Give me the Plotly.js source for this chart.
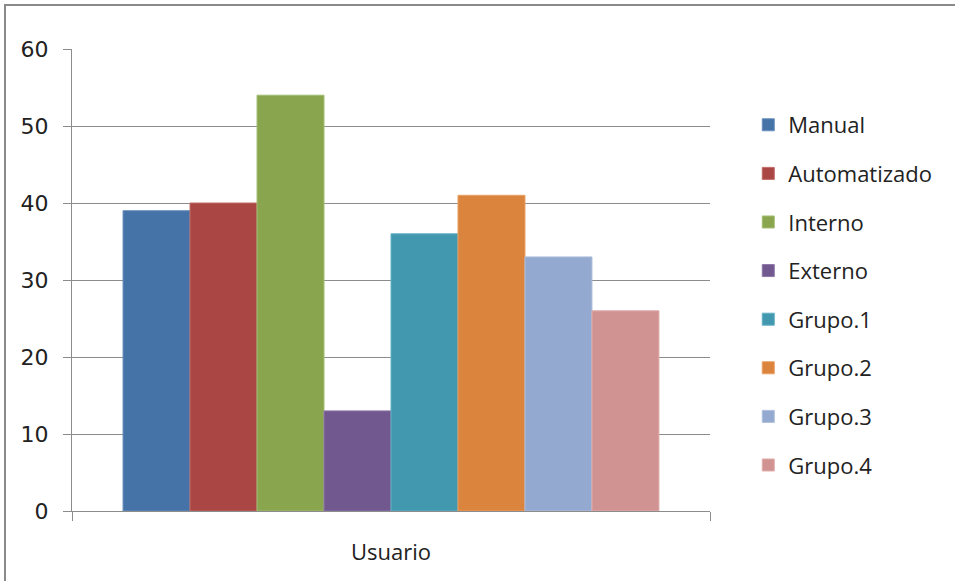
<!DOCTYPE html>
<html>
<head>
<meta charset="utf-8">
<script src="https://cdn.plot.ly/plotly-3.0.1.min.js"></script>
<style>
  html, body { margin: 0; padding: 0; background: #ffffff; }
  #chart { width: 955px; height: 581px; }
</style>
</head>
<body>
<div id="chart"></div>
<script>
// Single category, one bar per series
const categories = ["Usuario"];
const seriesNames = ["Manual", "Automatizado", "Interno", "Externo", "Grupo.1", "Grupo.2", "Grupo.3", "Grupo.4"];
const seriesValues = [39, 40, 54, 13, 36, 41, 33, 26];
const seriesColors = ["#4572A7", "#AA4643", "#89A54E", "#71588F", "#4198AF", "#DB843D", "#93A9CF", "#D19392"];
const seriesEdges = ["#6a8fbd", "#c06a67", "#a3bd72", "#8d77a8", "#65b0c4", "#e89f63", "#aebfdc", "#dfacab"];
const yTicks = [0, 10, 20, 30, 40, 50, 60];

const traces = seriesNames.map((name, i) => ({
  type: "bar",
  name: name,
  x: categories,
  y: [seriesValues[i]],
  legendgroup: name,
  marker: { color: seriesColors[i], line: { color: seriesEdges[i], width: 1 } },
  hoverinfo: "skip"
}));

const layout = {
  width: 955,
  height: 581,
  paper_bgcolor: "#ffffff",
  plot_bgcolor: "#ffffff",
  margin: { l: 72, r: 245, t: 49, b: 70 },
  barmode: "group",
  bargap: 0.16,
  bargroupgap: 0,
  showlegend: true,
  legend: {
    x: 1.06, xanchor: "left",
    y: 0.881, yanchor: "top",
    traceorder: "grouped",
    tracegroupgap: 17,
    font: { family: "Open Sans, sans-serif", size: 22, color: "#222222" },
    bgcolor: "rgba(0,0,0,0)",
    itemclick: false
  },
  xaxis: {
    type: "category",
    tickson: "boundaries",
    ticks: "outside",
    ticklen: 9,
    tickcolor: "#8c8c8c",
    showline: true,
    linecolor: "#8c8c8c",
    linewidth: 1,
    showgrid: false,
    tickfont: { family: "Open Sans, sans-serif", size: 22, color: "#222222" },
    ticklabelstandoff: 22,
    fixedrange: true
  },
  yaxis: {
    range: [0, 60],
    tickvals: yTicks,
    ticktext: yTicks.map(String),
    ticks: "outside",
    ticklen: 8,
    tickcolor: "#8c8c8c",
    showline: true,
    linecolor: "#8c8c8c",
    linewidth: 1,
    showgrid: true,
    gridcolor: "#8c8c8c",
    gridwidth: 1,
    zeroline: false,
    tickfont: { family: "DejaVu Sans, sans-serif", size: 22, color: "#222222" },
    ticklabelstandoff: 10,
    fixedrange: true
  },
  shapes: [{
    type: "rect", xref: "paper", yref: "paper",
    x0: -67 / 638, x1: 1.6, y0: -0.3, y1: 1 + 44 / 462,
    line: { color: "#8a8a8a", width: 2 },
    fillcolor: "rgba(0,0,0,0)",
    layer: "below"
  }]
};

Plotly.newPlot("chart", traces, layout, { displayModeBar: false, staticPlot: true });
</script>
</body>
</html>
